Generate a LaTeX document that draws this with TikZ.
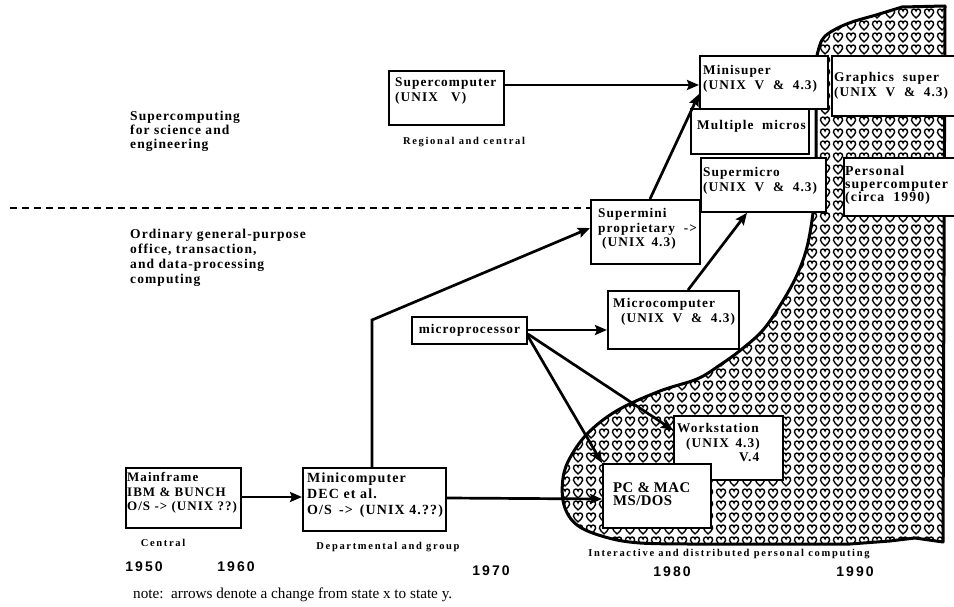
\documentclass[tikz,border=0pt]{standalone}
\usepackage{fontspec}
\setmainfont{Liberation Serif}
\newfontfamily\bxf{Liberation Serif}[LetterSpace=8]
\newfontfamily\pcf{Liberation Serif}[LetterSpace=3]
\newfontfamily\lbf{Liberation Serif}[LetterSpace=16]
\newfontfamily\yrf{Liberation Sans}[LetterSpace=15]
\usetikzlibrary{patterns,calc,arrows.meta}

\pgfdeclarepatternformonly{hearts}{\pgfpoint{0pt}{0pt}}{\pgfpoint{13pt}{12pt}}{\pgfpoint{13pt}{12pt}}{%
  \pgfsetlinewidth{1.5pt}%
  \pgfpathmoveto{\pgfpoint{6.5pt}{1.2pt}}%
  \pgfpathcurveto{\pgfpoint{4.8pt}{3pt}}{\pgfpoint{1.6pt}{5pt}}{\pgfpoint{1.6pt}{7.4pt}}%
  \pgfpathcurveto{\pgfpoint{1.6pt}{9.6pt}}{\pgfpoint{2.8pt}{10.8pt}}{\pgfpoint{4.1pt}{10.8pt}}%
  \pgfpathcurveto{\pgfpoint{5.5pt}{10.8pt}}{\pgfpoint{6.5pt}{9.8pt}}{\pgfpoint{6.5pt}{8.7pt}}%
  \pgfpathcurveto{\pgfpoint{6.5pt}{9.8pt}}{\pgfpoint{7.5pt}{10.8pt}}{\pgfpoint{8.9pt}{10.8pt}}%
  \pgfpathcurveto{\pgfpoint{10.2pt}{10.8pt}}{\pgfpoint{11.4pt}{9.6pt}}{\pgfpoint{11.4pt}{7.4pt}}%
  \pgfpathcurveto{\pgfpoint{11.4pt}{5pt}}{\pgfpoint{8.2pt}{3pt}}{\pgfpoint{6.5pt}{1.2pt}}%
  \pgfpathclose
  \pgfusepath{stroke}%
}

\begin{document}
\begin{tikzpicture}[x=1pt,y=-1pt,
  box/.style={draw, line width=1.8pt, fill=white, inner sep=0pt, anchor=north west},
  btxt/.style={anchor=north west, inner sep=0pt, align=left, font=\bxf\bfseries\fontsize{13.3}{14.5}\selectfont},
  side/.style={anchor=north west, inner sep=0pt, align=left, font=\bxf\bfseries\fontsize{13.5}{14.5}\selectfont},
  lab/.style={inner sep=0pt, font=\lbf\bfseries\fontsize{10.5}{12}\selectfont},
  yr/.style={inner sep=0pt, font=\yrf\bfseries\fontsize{14}{16}\selectfont},
  arr/.style={line width=2.7pt, -{Stealth[length=12pt,width=10pt,inset=2pt]}},
  blob/.style={line width=3pt, line join=round, pattern=hearts},
  divider/.style={line width=1.6pt, dash pattern=on 7pt off 5pt}
]
\useasboundingbox (0,0) rectangle (954,607);

% hatched region
\draw[blob] (945,6) -- (943,542) -- (915,538) -- (890,541) -- (850,544) -- (700,544)
  -- plot[smooth, tension=0.6] coordinates {(700,544) (640,543) (605,537) (577,525) (564,505) (563,478) (571,456) (589,432) (618,410) (660,391) (697,379) (720,365) (742,349) (763,330) (781,304) (797,275) (807,247) (813,213) (816,180)}
  -- (816,60)
  -- plot[smooth, tension=0.6] coordinates {(816,60) (822,40) (834,30) (852,22) (876,15) (902,7)}
  -- cycle;

% boxes
\node[box, minimum width=115pt, minimum height=54pt] (sc) at (388,70) {};
\node[box, minimum width=118pt, minimum height=45pt] (mm) at (690,108) {};
\node[box, minimum width=128pt, minimum height=53pt] (ms) at (699,55) {};
\node[box, minimum width=129pt, minimum height=60pt] (gs) at (831,55) {};
\node[box, minimum width=125pt, minimum height=54pt] (smc) at (700,157) {};
\node[box, minimum width=120pt, minimum height=58pt] (ps) at (843,157) {};
\node[box, minimum width=109pt, minimum height=64pt] (smn) at (590,199) {};
\node[box, minimum width=131pt, minimum height=58pt] (mc) at (607,290) {};
\node[box, minimum width=115pt, minimum height=27pt] (mp) at (411,316) {};
\node[box, minimum width=109pt, minimum height=64pt] (ws) at (673,415) {};
\node[box, minimum width=108pt, minimum height=64pt] (pc) at (602,463) {};
\node[box, minimum width=115pt, minimum height=60pt] (mf) at (125,467) {};
\node[box, minimum width=143pt, minimum height=63pt] (mn) at (302,467) {};

% box texts
\node[btxt] (tsc) at (395,77.5) {Supercomputer\\(UNIX\quad V)};
\node[btxt] (tms) at (703,65.5) {Minisuper\\(UNIX\ \ V\ \ \&\ \ 4.3)};
\node[btxt] (tgs) at (834,72.5) {Graphics\ \ super\\(UNIX\ \ V\ \ \&\ \ 4.3)};
\node[btxt] (tmm) at (697,120.5) {Multiple\ \ micros};
\node[btxt] (tsmc) at (703,167.5) {Supermicro\\(UNIX\ \ V\ \ \&\ \ 4.3)};
\node[btxt, font=\bxf\bfseries\fontsize{13.8}{13}\selectfont] (tps) at (845,165.5) {Personal\\supercomputer\\(circa\ \ 1990)};
\node[btxt] (tsmn) at (598,208.5) {Supermini\\proprietary\ \ ->\\\hspace*{4pt}(UNIX\enspace 4.3)};
\node[btxt] (tmc) at (613,298.5) {Microcomputer\\\hspace*{8pt}(UNIX\ \ V\ \ \&\ \ 4.3)};
\node[inner sep=0pt, font=\bxf\bfseries\fontsize{13.3}{14.5}\selectfont] (tmp) at (mp.center) {microprocessor};
\node[btxt] (tws) at (677,423.5) {Workstation\\\hspace*{9pt}(UNIX\enspace 4.3)\\\hspace*{62pt}V.4};
\node[btxt, font=\pcf\bfseries\fontsize{14.8}{13.5}\selectfont] (tpc) at (613,482) {PC \& MAC\\MS/DOS};
\node[btxt, font=\bxf\bfseries\fontsize{13}{14.5}\selectfont] (tmf) at (127,472.5) {Mainframe\\IBM \& BUNCH\\O/S -> (UNIX ??)};
\node[btxt, font=\bxf\bfseries\fontsize{14}{16}\selectfont] (tmn) at (307,473) {Minicomputer\\DEC et al.\\O/S\enspace ->\enspace (UNIX 4.??)};

% side texts
\node[side, font=\bxf\bfseries\fontsize{13.5}{14}\selectfont] (tsup) at (130,110.5) {Supercomputing\\for science and\\engineering};
\node[side, font=\bxf\bfseries\fontsize{13.5}{15}\selectfont] (tord) at (130,228.5) {Ordinary general-purpose\\office, transaction,\\and data-processing\\computing};

% divider
\coordinate (dl) at (10,208);
\draw[divider] (dl) -- (dl -| smn.west);

% small labels
\node[lab] (lreg) at (464,142) {Regional and central};
\node[lab] (lcen) at (163,543) {Central};
\node[lab] (ldep) at (388,547) {Departmental and group};
\node[lab] (lint) at (729,554) {Interactive and distributed personal computing};

% years
\node[yr] (y50) at (144,567) {1950};
\node[yr] (y60) at (236,567) {1960};
\node[yr] (y70) at (491,571) {1970};
\node[yr] (y80) at (672,572) {1980};
\node[yr] (y90) at (855,572) {1990};

\node[anchor=west, inner sep=0pt, font=\fontsize{15.2}{17}\selectfont] (note) at (133,595) {note:\enspace arrows denote a change from state x to state y.};

% connectors
\coordinate (bend) at (372,320);
\draw[arr] ($(sc.north east)+(0,15)$) -- ($(ms.north west)+(0,30)$);
\draw[arr] ($(smn.north west)+(60,0)$) -- ($(ms.north west)+(0,39)$);
\draw[arr] ($(mn.north west)+(70,0)$) -- (bend) -- ($(smn.north west)+(0,29)$);
\draw[arr] ($(mc.north west)+(81,0)$) -- ($(smc.south west)+(47,0)$);
\draw[arr] ($(mp.north east)+(0,14)$) -- ($(mc.north west)+(0,40)$);
\draw[arr] ($(mp.north east)+(0,18)$) -- ($(ws.north west)+(0,15)$);
\draw[arr] ($(mp.north east)+(0,20)$) -- (pc.north west);
\draw[arr] ($(mf.north east)+(0,30)$) -- ($(mn.north west)+(0,30)$);
\draw[arr] ($(mn.north east)+(0,31)$) -- ($(pc.north west)+(0,36)$);
\end{tikzpicture}
\end{document}
